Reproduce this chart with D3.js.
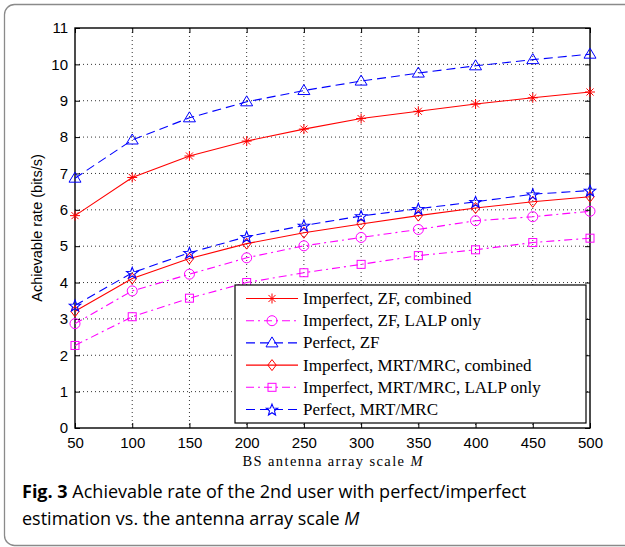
<!DOCTYPE html>
<html>
<head>
<meta charset="utf-8">
<script src="https://cdn.jsdelivr.net/npm/d3@7"></script>
<style>
  body { margin: 0; background: #fff; }
  svg { display: block; }
</style>
</head>
<body>
<svg id="chart" width="625" height="547"></svg>
<script>
// data
var antennas = [50, 100, 150, 200, 250, 300, 350, 400, 450, 500];
var zfCombined = [5.84, 6.89, 7.48, 7.89, 8.22, 8.51, 8.71, 8.91, 9.08, 9.24];
var zfLalp = [2.87, 3.77, 4.23, 4.68, 5.01, 5.24, 5.46, 5.70, 5.81, 5.96];
var zfPerfect = [6.87, 7.92, 8.53, 8.97, 9.28, 9.54, 9.76, 9.96, 10.13, 10.28];
var mrtCombined = [3.21, 4.11, 4.66, 5.07, 5.37, 5.61, 5.84, 6.05, 6.22, 6.36];
var mrtLalp = [2.27, 3.06, 3.57, 4.00, 4.27, 4.50, 4.74, 4.90, 5.10, 5.22];
var mrtPerfect = [3.37, 4.27, 4.82, 5.26, 5.57, 5.83, 6.03, 6.22, 6.43, 6.53];
var seriesNames = ["Imperfect, ZF, combined", "Imperfect, ZF, LALP only", "Perfect, ZF",
    "Imperfect, MRT/MRC, combined", "Imperfect, MRT/MRC, LALP only", "Perfect, MRT/MRC"];
var xTicks = [50, 100, 150, 200, 250, 300, 350, 400, 450, 500];
var yTicks = [0, 1, 2, 3, 4, 5, 6, 7, 8, 9, 10, 11];

var dashed = "9,5";
var dashDot = "8,4,2,4";
var series = [
    {name: seriesNames[0], values: zfCombined, color: "#ff0000", dash: null, marker: "asterisk"},
    {name: seriesNames[1], values: zfLalp, color: "#ff00ff", dash: dashDot, marker: "circle"},
    {name: seriesNames[2], values: zfPerfect, color: "#0000ff", dash: dashed, marker: "triangle"},
    {name: seriesNames[3], values: mrtCombined, color: "#ff0000", dash: null, marker: "diamond"},
    {name: seriesNames[4], values: mrtLalp, color: "#ff00ff", dash: dashDot, marker: "square"},
    {name: seriesNames[5], values: mrtPerfect, color: "#0000ff", dash: dashed, marker: "star"}
];

var svg = d3.select("#chart");

// outer figure frame (right side runs off the page)
svg.append("rect")
    .attr("x", 4.5).attr("y", 4.5)
    .attr("width", 640).attr("height", 541)
    .attr("rx", 10).attr("ry", 10)
    .attr("fill", "none")
    .attr("stroke", "#8a8a8a")
    .attr("stroke-width", 1.3);

var plot = {left: 75, right: 590, top: 28, bottom: 428};

var x = d3.scaleLinear().domain([50, 500]).range([plot.left, plot.right]);
var y = d3.scaleLinear().domain([0, 11]).range([plot.bottom, plot.top]);

var g = svg.append("g");

// grid
g.selectAll(".vgrid").data(xTicks.slice(1, -1)).enter().append("line")
    .attr("x1", function (d) { return x(d); })
    .attr("x2", function (d) { return x(d); })
    .attr("y1", plot.top).attr("y2", plot.bottom)
    .attr("stroke", "#000").attr("stroke-width", 0.8)
    .attr("stroke-dasharray", "1,3");
g.selectAll(".hgrid").data(yTicks.slice(1, -1)).enter().append("line")
    .attr("y1", function (d) { return y(d); })
    .attr("y2", function (d) { return y(d); })
    .attr("x1", plot.left).attr("x2", plot.right)
    .attr("stroke", "#000").attr("stroke-width", 0.8)
    .attr("stroke-dasharray", "1,3");

// axes with inward ticks, MATLAB style
var tickFont = "'Liberation Sans', Arial, sans-serif";
var xAxis = g.append("g")
    .attr("transform", "translate(0," + plot.bottom + ")")
    .call(d3.axisBottom(x).tickValues(xTicks).tickSize(-5).tickPadding(9).tickSizeOuter(0));
var yAxis = g.append("g")
    .attr("transform", "translate(" + plot.left + ",0)")
    .call(d3.axisLeft(y).tickValues(yTicks).tickSize(-5).tickPadding(7).tickSizeOuter(0));
var xTop = g.append("g")
    .attr("transform", "translate(0," + plot.top + ")")
    .call(d3.axisTop(x).tickValues(xTicks).tickSize(-5).tickFormat("").tickSizeOuter(0));
var yRight = g.append("g")
    .attr("transform", "translate(" + plot.right + ",0)")
    .call(d3.axisRight(y).tickValues(yTicks).tickSize(-5).tickFormat("").tickSizeOuter(0));
[xAxis, yAxis, xTop, yRight].forEach(function (a) {
    a.select(".domain").remove();
    a.selectAll("line").attr("stroke", "#000");
    a.selectAll("text")
        .attr("fill", "#000")
        .style("font-family", tickFont)
        .style("font-size", "15px");
});

g.append("rect")
    .attr("x", plot.left).attr("y", plot.top)
    .attr("width", plot.right - plot.left).attr("height", plot.bottom - plot.top)
    .attr("fill", "none").attr("stroke", "#000").attr("stroke-width", 1.4);

// markers
function drawMarker(sel, type, color) {
    if (type === "circle") {
        sel.append("circle").attr("r", 5).attr("fill", "none").attr("stroke", color).attr("stroke-width", 1);
    } else if (type === "square") {
        sel.append("rect").attr("x", -4).attr("y", -4).attr("width", 8).attr("height", 8)
            .attr("fill", "none").attr("stroke", color).attr("stroke-width", 1);
    } else if (type === "triangle") {
        sel.append("path").attr("d", "M0,-6L6,4L-6,4Z")
            .attr("fill", "none").attr("stroke", color).attr("stroke-width", 1);
    } else if (type === "diamond") {
        sel.append("path").attr("d", "M0,-5.5L4.2,0L0,5.5L-4.2,0Z")
            .attr("fill", "none").attr("stroke", color).attr("stroke-width", 1);
    } else if (type === "asterisk") {
        var p = "";
        for (var i = 0; i < 4; i++) {
            var a = i * Math.PI / 4;
            var dx = 5 * Math.sin(a), dy = -5 * Math.cos(a);
            p += "M" + (-dx) + "," + (-dy) + "L" + dx + "," + dy;
        }
        sel.append("path").attr("d", p).attr("stroke", color).attr("stroke-width", 1).attr("fill", "none");
    } else if (type === "star") {
        var pts = [];
        for (var k = 0; k < 10; k++) {
            var r = k % 2 === 0 ? 6 : 2.6;
            var ang = k * Math.PI / 5;
            pts.push([r * Math.sin(ang), -r * Math.cos(ang) + 0.6]);
        }
        sel.append("path").attr("d", "M" + pts.join("L") + "Z")
            .attr("fill", "none").attr("stroke", color).attr("stroke-width", 1.1);
    }
}

var line = d3.line()
    .x(function (d, i) { return x(antennas[i]); })
    .y(function (d) { return y(d); });

series.forEach(function (s) {
    g.append("path")
        .attr("d", line(s.values))
        .attr("fill", "none")
        .attr("stroke", s.color)
        .attr("stroke-width", 1.1)
        .attr("stroke-dasharray", s.dash);
    g.selectAll(null).data(s.values).enter().append("g")
        .attr("transform", function (d, i) { return "translate(" + x(antennas[i]) + "," + y(d) + ")"; })
        .each(function () { drawMarker(d3.select(this), s.marker, s.color); });
});

// legend
var legend = svg.append("g");
legend.append("rect")
    .attr("x", 235).attr("y", 285)
    .attr("width", 351).attr("height", 138)
    .attr("fill", "#fff").attr("stroke", "#000").attr("stroke-width", 1.2);
var legendY = d3.scalePoint().domain(seriesNames).range([298.5, 409.5]);
series.forEach(function (s) {
    var ly = legendY(s.name);
    legend.append("line")
        .attr("x1", 246).attr("x2", 298)
        .attr("y1", ly).attr("y2", ly)
        .attr("stroke", s.color).attr("stroke-width", 1.1)
        .attr("stroke-dasharray", s.dash);
    drawMarker(legend.append("g").attr("transform", "translate(272," + ly + ")"), s.marker, s.color);
    legend.append("text")
        .attr("x", 303).attr("y", ly + 5.5)
        .style("font-family", "'Liberation Serif', 'Times New Roman', serif")
        .style("font-size", "17px")
        .text(s.name);
});

// axis labels
svg.append("text")
    .attr("x", (plot.left + plot.right) / 2).attr("y", 466)
    .attr("text-anchor", "middle")
    .attr("textLength", 180)
    .attr("lengthAdjust", "spacing")
    .style("font-family", "'Liberation Serif', 'Times New Roman', serif")
    .style("font-size", "14.5px")
    .html("BS antenna array scale <tspan font-style='italic'>M</tspan>");

svg.append("text")
    .attr("transform", "translate(42," + (plot.top + plot.bottom) / 2 + ") rotate(-90)")
    .attr("text-anchor", "middle")
    .style("font-family", tickFont)
    .style("font-size", "14.5px")
    .text("Achievable rate (bits/s)");

// caption
var cap = svg.append("text")
    .style("font-family", "'Open Sans', 'Noto Sans', sans-serif")
    .style("font-size", "18px");
var l1 = cap.append("tspan").attr("x", 22).attr("y", 498);
l1.append("tspan").attr("font-weight", "bold").text("Fig. 3");
l1.append("tspan").text(" Achievable rate of the 2nd user with perfect/imperfect");
var l2 = cap.append("tspan").attr("x", 22).attr("y", 525);
l2.append("tspan").text("estimation vs. the antenna array scale ");
l2.append("tspan").attr("font-style", "italic").text("M");
</script>
</body>
</html>
